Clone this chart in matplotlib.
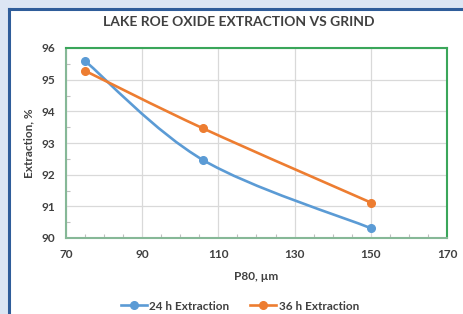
import numpy as np
import matplotlib
matplotlib.use("Agg")
import matplotlib.pyplot as plt
from matplotlib.patches import Rectangle
from matplotlib.path import Path
from matplotlib.patches import PathPatch

# ---- data ----
p80 = [75, 106, 150]
ext_24h = [95.59, 92.46, 90.31]
ext_36h = [95.28, 93.46, 91.12]
series_names = ["24 h Extraction", "36 h Extraction"]
title = "LAKE ROE OXIDE EXTRACTION VS GRIND"
xlabel = "P80, µm"
ylabel = "Extraction, %"
xticks = [70, 90, 110, 130, 150, 170]
yticks = [90, 91, 92, 93, 94, 95, 96]

BLUE = "#5b9bd5"
ORANGE = "#ed7d31"
TXT = "#404040"
FONT = ["Lato", "DejaVu Sans"]
plt.rcParams["font.family"] = FONT

W, H = 464, 314
fig = plt.figure(figsize=(W / 100, H / 100), dpi=100)
fig.patch.set_facecolor("#dce6f4")

# white panel with dark-blue frame on left/top
fig.add_artist(Rectangle((9.5 / W, 0), 1 - 9.5 / W, 1 - 9.5 / H, transform=fig.transFigure,
                         facecolor="white", edgecolor="none", zorder=0))
fig.add_artist(plt.Line2D([9 / W, 9 / W], [0, 1 - 9 / H], transform=fig.transFigure,
                          color="#2f5d9a", lw=2.2, zorder=1))
fig.add_artist(plt.Line2D([9 / W, 1], [1 - 9 / H, 1 - 9 / H], transform=fig.transFigure,
                          color="#2f5d9a", lw=2.2, zorder=1))

ax = fig.add_axes([66 / W, 1 - 238 / H, (447 - 66) / W, (238 - 48) / H])
ax.set_facecolor("white")


def smooth(xs, ys):
    # Excel-like smoothed line (Catmull-Rom as cubic Bezier)
    xs = np.asarray(xs, float)
    ys = np.asarray(ys, float)
    sx = 1 / 100.0
    sy = 1 / 6.0 * (190 / 381)
    px = xs * sx
    py = ys * sy
    verts = [(xs[0], ys[0])]
    codes = [Path.MOVETO]
    k = 1 / 6.0
    N = len(xs)
    for i in range(N - 1):
        i0 = max(i - 1, 0)
        i3 = min(i + 2, N - 1)
        c1 = (px[i] + (px[i + 1] - px[i0]) * k, py[i] + (py[i + 1] - py[i0]) * k)
        c2 = (px[i + 1] - (px[i3] - px[i]) * k, py[i + 1] - (py[i3] - py[i]) * k)
        verts += [(c1[0] / sx, c1[1] / sy), (c2[0] / sx, c2[1] / sy), (xs[i + 1], ys[i + 1])]
        codes += [Path.CURVE4] * 3
    return Path(verts, codes)


for ys, c, name in [(ext_24h, BLUE, series_names[0]), (ext_36h, ORANGE, series_names[1])]:
    ax.add_patch(PathPatch(smooth(p80, ys), facecolor="none", edgecolor=c, lw=1.9,
                           capstyle="round", zorder=3))
    ax.plot(p80, ys, linestyle="none", marker="o", ms=5.5, color=c, zorder=4)
    ax.plot([], [], color=c, lw=1.9, marker="o", ms=5.5, label=name)

ax.set_xlim(70, 170)
ax.set_ylim(90, 96)
ax.set_xticks(xticks)
ax.set_yticks(yticks)
ax.set_xticks(np.arange(70, 171, 5), minor=True)
ax.set_yticks(np.arange(90, 96.01, 0.5), minor=True)
ax.grid(True, which="major", color="#d9d9d9", lw=0.9, zorder=0)
ax.set_axisbelow(True)
ax.tick_params(which="major", length=0, pad=8, labelsize=8.5, labelcolor=TXT)
ax.tick_params(which="minor", direction="in", length=3, color="#bfbfbf", width=0.8)
for lab in ax.get_xticklabels() + ax.get_yticklabels():
    lab.set_fontweight("bold")

for s in ["top", "right"]:
    ax.spines[s].set_color("#3aa65a")
    ax.spines[s].set_linewidth(1.5)
for s in ["left", "bottom"]:
    ax.spines[s].set_color("#86b897")
    ax.spines[s].set_linewidth(1.5)

ax.set_xlabel(xlabel, fontsize=8.5, fontweight="bold", color=TXT, labelpad=8)
ax.set_ylabel(ylabel, fontsize=8.5, fontweight="bold", color=TXT, labelpad=5)

fig.text(0.515, 1 - 22 / H, title, ha="center", va="center", fontsize=10,
         fontweight="bold", color=TXT)

leg = fig.legend(loc="center", bbox_to_anchor=(0.517, 1 - 306 / H), ncol=2, frameon=False,
                 fontsize=8.5, handlelength=2.2, columnspacing=1.8, handletextpad=0.2,
                 borderaxespad=0)
for t in leg.get_texts():
    t.set_color(TXT)
    t.set_fontweight("bold")

fig.savefig("out.png", dpi=100, facecolor=fig.get_facecolor())
